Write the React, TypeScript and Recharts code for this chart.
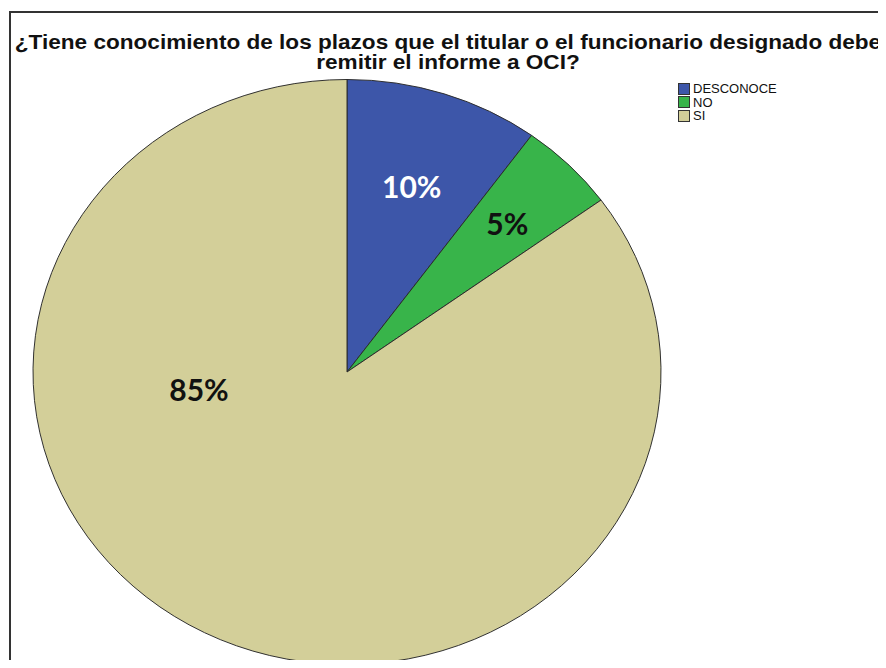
import React from "react";
import { PieChart, Pie, Cell, Legend } from "recharts";

const categories = ["DESCONOCE", "NO", "SI"];
const percents = [10, 5, 85];
const colors = ["#3d56a9", "#38b44a", "#d3cf99"];

const chartData = categories.map((name, i) => ({ name, value: percents[i] }));

const W = 886;
const H = 668;
const CX = 347;
const CY = 372;
const R = 314;
const SQUASH = 292.5 / 314;

// label placement per slice: [angle override or null, fraction of radius]
const labelSpots: [number | null, number][] = [
  [null, 0.667],
  [null, 0.722],
  [187, 0.475],
];
const labelColors = ["#ffffff", "#111111", "#111111"];

const RAD = Math.PI / 180;

function SliceLabel(props: any) {
  const { cx, cy, midAngle, outerRadius, index, value } = props;
  const [ang, frac] = labelSpots[index];
  const a = (ang ?? midAngle) * RAD;
  const r = outerRadius * frac;
  const x = cx + r * Math.cos(a);
  const y = cy - r * Math.sin(a) * SQUASH;
  return (
    <text
      x={x}
      y={y}
      textAnchor="middle"
      dominantBaseline="central"
      fill={labelColors[index]}
      style={{ fontFamily: "Lato, 'Open Sans', sans-serif", fontWeight: 700, fontSize: 30 }}
    >
      {value}%
    </text>
  );
}

function LegendBox(props: any) {
  const items = props.payload || [];
  return (
    <div style={{ fontFamily: "'Liberation Sans', Arial, sans-serif", fontSize: 13, color: "#111" }}>
      {items.map((it: any, i: number) => (
        <div key={i} style={{ display: "flex", alignItems: "center", height: 13.5 }}>
          <span
            style={{
              display: "inline-block",
              width: 10,
              height: 10,
              background: colors[i],
              border: "1px solid #333",
              marginRight: 3,
            }}
          />
          <span>{it.value}</span>
        </div>
      ))}
    </div>
  );
}

export default function App() {
  return (
    <div style={{ position: "relative", width: W, height: H, margin: -8, overflow: "hidden", background: "#fff" }}>
      <style>{`
        .ellipse-pie path.recharts-sector {
          transform-origin: ${CX}px ${CY}px;
          transform: scaleY(${SQUASH});
        }
      `}</style>
      <div
        style={{
          position: "absolute",
          top: -1,
          left: 0,
          width: W,
          textAlign: "center",
          paddingLeft: 10,
          boxSizing: "border-box",
          fontFamily: "'Liberation Sans', Arial, sans-serif",
          fontSize: 10,
          lineHeight: "11px",
          color: "#888",
          fontWeight: 700,
        }}
      >
        Ilustración N° 5
      </div>
      <div
        style={{
          position: "absolute",
          left: 9,
          top: 11,
          width: W,
          height: H,
          borderLeft: "2px solid #333",
          borderTop: "2px solid #333",
        }}
      />
      <div
        style={{
          position: "absolute",
          top: 32,
          left: 5,
          width: 886,
          textAlign: "center",
          fontFamily: "'Liberation Sans', Arial, sans-serif",
          fontWeight: 700,
          fontSize: 21,
          lineHeight: "19.5px",
          color: "#111",
          whiteSpace: "nowrap",
          transform: "scaleX(1.075)",
          transformOrigin: "443px 0",
        }}
      >
        ¿Tiene conocimiento de los plazos que el titular o el funcionario designado debe
        <br />
        remitir el informe a OCI?
      </div>
      <div className="ellipse-pie" style={{ position: "absolute", left: 0, top: 0 }}>
        <PieChart width={W} height={H} margin={{ top: 0, right: 0, bottom: 0, left: 0 }}>
          <Pie
            data={chartData}
            dataKey="value"
            nameKey="name"
            cx={CX}
            cy={CY}
            outerRadius={R}
            startAngle={90}
            endAngle={-270}
            stroke="#2b2b2b"
            strokeWidth={1}
            label={SliceLabel}
            labelLine={false}
            isAnimationActive={false}
          >
            {chartData.map((d, i) => (
              <Cell key={d.name} fill={colors[i]} />
            ))}
          </Pie>
          <Legend
            layout="vertical"
            content={LegendBox}
            wrapperStyle={{ position: "absolute", top: 82, left: 678, width: 130 }}
          />
        </PieChart>
      </div>
    </div>
  );
}
